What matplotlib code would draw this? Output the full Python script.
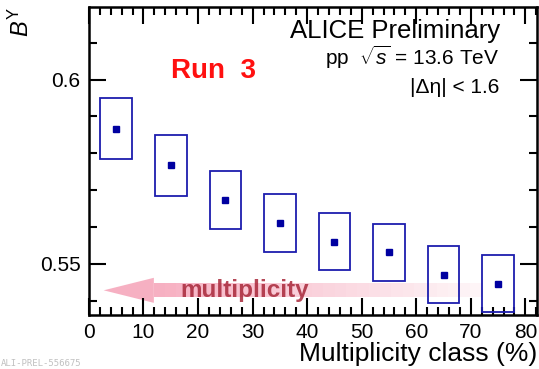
import matplotlib
import matplotlib.pyplot as plt
import numpy as np
from matplotlib.patches import Rectangle, Polygon
from matplotlib.ticker import MultipleLocator

matplotlib.use("Agg")

# data
mult_class = [5, 15, 25, 35, 45, 55, 65, 75]
b_y = [0.5866, 0.5767, 0.5674, 0.5610, 0.5560, 0.5531, 0.5470, 0.5446]
stat_err = [0.0007, 0.0007, 0.0007, 0.0007, 0.0007, 0.0007, 0.0007, 0.0007]
syst_err = [0.0083, 0.0082, 0.0079, 0.0079, 0.0078, 0.0078, 0.0077, 0.0077]
box_halfwidth = 2.9

plt.rcParams["font.family"] = ["Liberation Sans", "DejaVu Sans"]
plt.rcParams["mathtext.fontset"] = "custom"
plt.rcParams["mathtext.rm"] = "Liberation Sans"
plt.rcParams["mathtext.it"] = "Liberation Sans:italic"

fig = plt.figure(figsize=(5.39, 3.69), dpi=100)
ax = fig.add_axes([0.165, 0.1463, 0.831, 0.835])

# systematic boxes
for x, y, s in zip(mult_class, b_y, syst_err):
    ax.add_patch(Rectangle((x - box_halfwidth, y - s), 2 * box_halfwidth, 2 * s,
                           fill=False, edgecolor="#1c1cae", lw=1.3, zorder=3))

ax.errorbar(mult_class, b_y, yerr=stat_err, fmt="s", ms=5, color="#0000a0",
            ecolor="#0000a0", elinewidth=1.3, capsize=0, zorder=4)

ax.set_xlim(0, 82.1)
ax.set_ylim(0.5361, 0.6197)

ax.xaxis.set_major_locator(MultipleLocator(10))
ax.xaxis.set_minor_locator(MultipleLocator(2))
ax.yaxis.set_minor_locator(MultipleLocator(0.01))
ax.set_yticks([0.55, 0.6])
ax.set_yticklabels(["0.55", "0.6"])
ax.tick_params(which="both", direction="in", top=True, right=True, labelsize=15, width=1.5, pad=6)
ax.tick_params(which="major", length=12)
ax.tick_params(which="minor", length=6)
for sp in ax.spines.values():
    sp.set_linewidth(1.8)

ax.set_xlabel("Multiplicity class (%)", fontsize=19, loc="right", labelpad=0)
ax.set_ylabel(r"$B^{\mathrm{Y}}$", fontsize=17, loc="top", labelpad=4)

ax.text(0.917, 0.898, "ALICE Preliminary", transform=ax.transAxes, ha="right", va="baseline", fontsize=18.5)
ax.text(0.917, 0.812, r"pp  $\sqrt{s}$ = 13.6 TeV", transform=ax.transAxes, ha="right", va="baseline", fontsize=15)
ax.text(0.917, 0.720, "|Δη| < 1.6", transform=ax.transAxes, ha="right", va="baseline", fontsize=15)
ax.text(0.184, 0.768, "Run  3", transform=ax.transAxes, ha="left", va="baseline", fontsize=20,
        fontweight="bold", color="#ff1010")

# pink "multiplicity" arrow, fading toward the tail
y0 = 0.5428
head = Polygon([[2.7, y0], [11.9, y0 + 0.0034], [11.9, y0 - 0.0034]], closed=True,
               facecolor="#f07090", edgecolor="none", alpha=0.55, zorder=1)
ax.add_patch(head)
xs = np.linspace(11.9, 72, 30)
for i in range(len(xs) - 1):
    a = 0.5 * (1 - i / (len(xs) - 1)) + 0.05
    ax.add_patch(Rectangle((xs[i], y0 - 0.0019), xs[i + 1] - xs[i], 0.0038,
                           facecolor="#f07090", edgecolor="none", alpha=a, zorder=1))
ax.text(16.8, y0 - 0.0001, "multiplicity", ha="left", va="center", fontsize=17.5,
        fontweight="bold", color="#a8283a", alpha=0.85, zorder=2)

fig.text(0.002, 0.004, "ALI-PREL-556675", fontsize=6.5, family="DejaVu Sans Mono",
         color="#c0c0c0", ha="left", va="bottom")

fig.savefig("out.png", dpi=100)
